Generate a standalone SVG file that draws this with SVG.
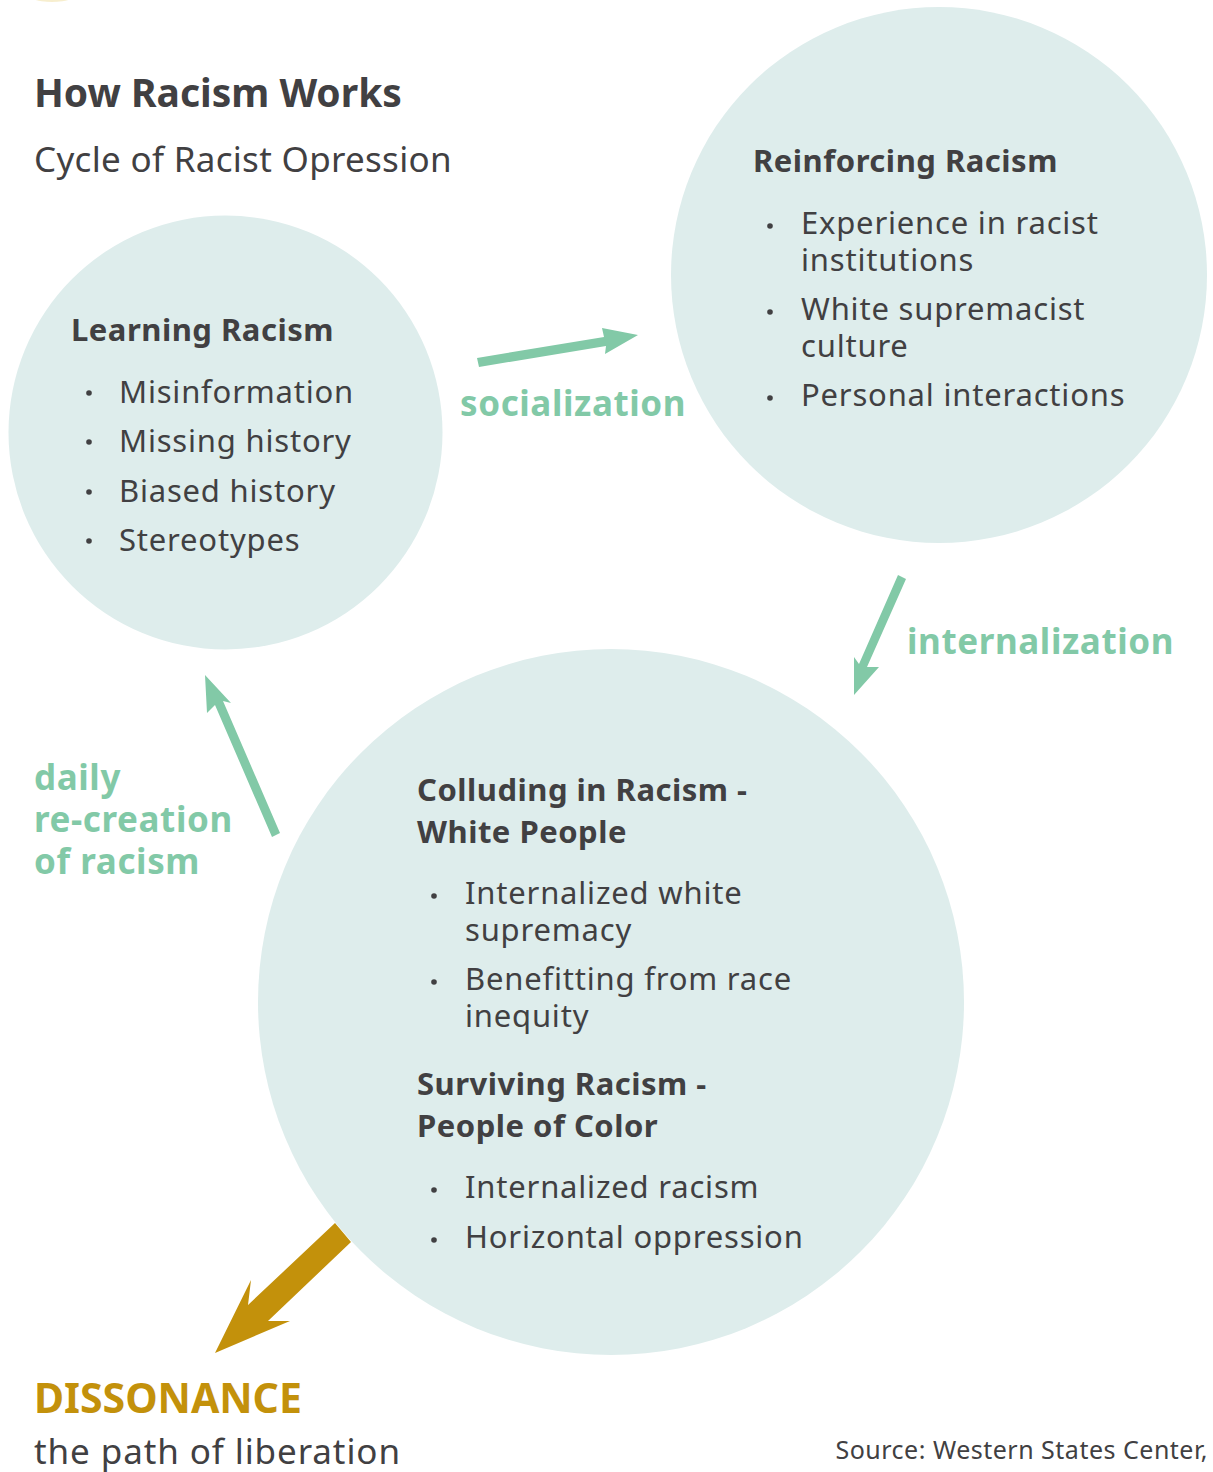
<svg xmlns="http://www.w3.org/2000/svg" width="1213" height="1472" viewBox="0 0 1213 1472">
<style>
text{font-family:"Noto Sans","Open Sans","DejaVu Sans",sans-serif;fill:#414042}
.h{font-weight:bold;font-size:31px;letter-spacing:0.5px}
.b{font-size:31px;letter-spacing:0.8px}
.g{font-weight:bold;font-size:35px;letter-spacing:0.6px;fill:#82C9A7}
.c{fill:#DEEDEC}
.dot{fill:#414042}
.arr{fill:#82C9A7}
</style>
<rect width="1213" height="1472" fill="#fff"/>
<ellipse cx="52" cy="-8" rx="27" ry="10" fill="#F2E3AE" opacity="0.6"/>
<g id="title">
<text x="34" y="107" style="font-weight:bold;font-size:39px">How Racism Works</text>
<text x="34" y="172" style="font-size:35px;letter-spacing:0.3px">Cycle of Racist Opression</text>
</g>
<g id="connectors">
<path class="arr" d="M477,358 L604,337 L602,328 L638,335 L605,354 L606,346 L479,367 Z"/>
<path class="arr" d="M898,575 L906,579 L867,667 L879,667 L854,695 L854,657 L859,664 Z"/>
<path class="arr" d="M280,833 L272,837 L215,705 L207,713 L205,675 L231,703 L223,701 Z"/>
<path fill="#C3910B" d="M335,1223 L351,1242 L268,1321 L290,1321 L215,1353 L251,1280 L248,1305 Z"/>
</g>
<g id="learning">
<circle class="c" cx="225.5" cy="432.5" r="217"/>
<text class="h" x="71" y="341">Learning Racism</text>
<circle class="dot" cx="89" cy="393" r="2.8"/>
<circle class="dot" cx="89" cy="442" r="2.8"/>
<circle class="dot" cx="89" cy="492" r="2.8"/>
<circle class="dot" cx="89" cy="541" r="2.8"/>
<text class="b" x="119" y="403">Misinformation</text>
<text class="b" x="119" y="452">Missing history</text>
<text class="b" x="119" y="502">Biased history</text>
<text class="b" x="119" y="551">Stereotypes</text>
</g>
<g id="reinforcing">
<circle class="c" cx="939" cy="275" r="268"/>
<text class="h" x="753" y="172">Reinforcing Racism</text>
<circle class="dot" cx="770" cy="226" r="2.8"/>
<circle class="dot" cx="770" cy="312" r="2.8"/>
<circle class="dot" cx="770" cy="398" r="2.8"/>
<text class="b" x="801" y="234">Experience in racist<tspan x="801" y="271">institutions</tspan></text>
<text class="b" x="801" y="320">White supremacist<tspan x="801" y="357">culture</tspan></text>
<text class="b" x="801" y="406">Personal interactions</text>
</g>
<g id="colluding">
<circle class="c" cx="611" cy="1002" r="353"/>
<text class="h" x="417" y="801">Colluding in Racism -<tspan x="417" y="843">White People</tspan></text>
<circle class="dot" cx="434" cy="896" r="2.8"/>
<circle class="dot" cx="434" cy="982" r="2.8"/>
<text class="b" x="465" y="904">Internalized white<tspan x="465" y="941">supremacy</tspan></text>
<text class="b" x="465" y="990">Benefitting from race<tspan x="465" y="1027">inequity</tspan></text>
<text class="h" x="417" y="1095">Surviving Racism -<tspan x="417" y="1137">People of Color</tspan></text>
<circle class="dot" cx="434" cy="1190" r="2.8"/>
<circle class="dot" cx="434" cy="1240" r="2.8"/>
<text class="b" x="465" y="1198">Internalized racism</text>
<text class="b" x="465" y="1248">Horizontal oppression</text>
</g>
<g id="labels">
<text class="g" x="460" y="416">socialization</text>
<text class="g" x="907" y="654">internalization</text>
<text class="g" x="34" y="790">daily<tspan x="34" y="832">re-creation</tspan><tspan x="34" y="874">of racism</tspan></text>
</g>
<g id="dissonance">
<text x="34" y="1413" style="font-weight:bold;font-size:41px;fill:#C3910B">DISSONANCE</text>
<text x="34" y="1464" style="font-size:35px;letter-spacing:0.9px">the path of liberation</text>
</g>
<text x="1208" y="1459" text-anchor="end" style="font-size:25px;letter-spacing:0.5px">Source: Western States Center,</text>
</svg>
